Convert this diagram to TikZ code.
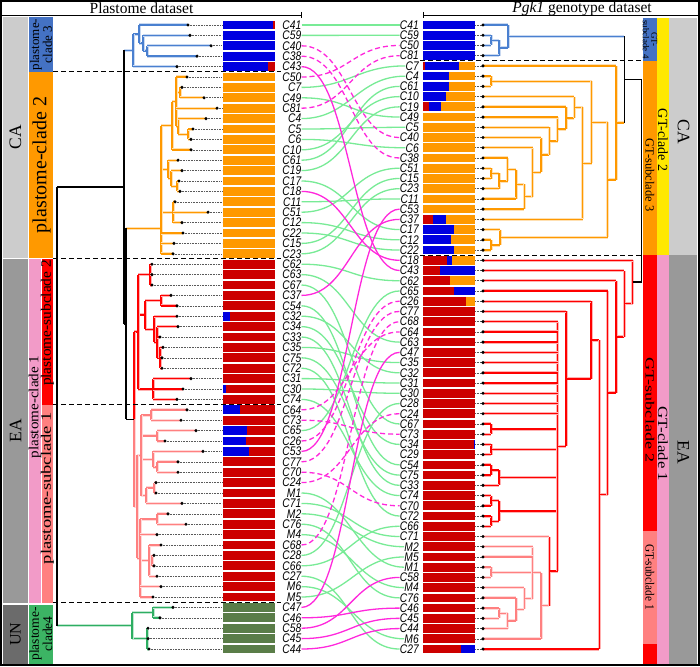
\documentclass[tikz,border=0pt]{standalone}
\usepackage{fontspec}
\setmainfont{Liberation Serif}
\newfontfamily\labfont{Liberation Sans}
\usepackage{graphicx}
\definecolor{cBlue}{HTML}{4A80D0}
\definecolor{cOrange}{HTML}{FF9900}
\definecolor{cRed}{HTML}{FF0000}
\definecolor{cSalmon}{HTML}{FF8080}
\definecolor{cGreenT}{HTML}{2DAE62}
\definecolor{barBlue}{HTML}{0000E0}
\definecolor{barRed}{HTML}{CC0000}
\definecolor{barOrange}{HTML}{FF9900}
\definecolor{barGreen}{HTML}{5A7D48}
\definecolor{colBlue}{HTML}{4472C4}
\definecolor{colPink}{HTML}{F29BC8}
\definecolor{colGreen}{HTML}{3CB464}
\definecolor{colYellow}{HTML}{FFE800}
\definecolor{greyCA}{HTML}{CCCCCC}
\definecolor{greyEA}{HTML}{999999}
\definecolor{greyUN}{HTML}{6B6B6B}
\definecolor{connG}{HTML}{78EB96}
\definecolor{connM}{HTML}{FF28DC}
\newcommand\leaflab[1]{\scalebox{0.82}[1]{\labfont\itshape\fontsize{12.5}{12.5}\selectfont #1}}
\newcommand\tpath[2]{\draw[#1!30, line width=3pt] #2; \draw[#1, line width=1.4pt] #2;}
\newcommand\inode[6]{\tpath{#1}{(#6,#5) -- (#2,#5) (#2,#3) -- (#2,#4)}}
\newcommand\lseg[4]{\fill[#2] ({223+52*#3},{25+10.4*#1-4.4}) rectangle ({223+52*#4},{25+10.4*#1+4.4});}
\newcommand\rseg[4]{\fill[#2] ({423+52*#3},{25+10.23*#1-4.35}) rectangle ({423+52*#4},{25+10.23*#1+4.35});}
\begin{document}
\begin{tikzpicture}[x=1pt,y=-1pt,
  bk/.style={line width=1.5pt, black},
  lead/.style={densely dotted, line width=0.6pt, black!65},
  lab/.style={inner sep=0.3pt, outer sep=0pt},
  congr/.style={connG, line width=1.3pt},
  conmag/.style={connM, line width=1.3pt},
  conmagd/.style={connM, line width=1.3pt, dash pattern=on 5pt off 3pt},
  dsh/.style={black, line width=1.3pt, dash pattern=on 5pt off 3pt},
  rtx/.style={inner sep=0pt, align=center}]
\useasboundingbox (0,0) rectangle (700,666);
\fill[white] (0,0) rectangle (700,666);
% ---------- header ----------
\node[rtx, font=\fontsize{15.5}{16}\selectfont] (hl) at (141.5,8.5) {Plastome dataset};
\node[rtx, font=\fontsize{15.5}{16}\selectfont] (hr) at (582,8.5) {\textit{Pgk1} genotype dataset};
\draw[line width=0.8pt] (1,15) -- (301,15) (301,12) -- (301,18);
\draw[line width=0.8pt] (423,12) -- (423,18) (423,15) -- (699,15);
% ---------- left columns ----------
\fill[greyCA] (3,17) rectangle (28,258.5);
\fill[greyEA] (3,258.5) rectangle (28,604);
\fill[greyUN] (3,604) rectangle (28,664);
\fill[colBlue] (29,17) rectangle (53,72);
\fill[cOrange] (29,72) rectangle (53,258.5);
\fill[colPink] (29,258.5) rectangle (41,604);
\fill[cRed] (41.5,258.5) rectangle (53,404.6);
\fill[cSalmon] (41.5,404.6) rectangle (53,604);
\fill[colGreen] (29,604) rectangle (53,664);
\draw[white, line width=1.2pt] (3,258.5) -- (53,258.5) (3,604) -- (53,604);
\node[rotate=90, rtx, font=\fontsize{17.5}{18}\selectfont] (tCA) at (15.5,137) {CA};
\node[rotate=90, rtx, font=\fontsize{17.5}{18}\selectfont] (tEA) at (15.5,431) {EA};
\node[rotate=90, rtx, font=\fontsize{16}{17}\selectfont] (tUN) at (15.5,634) {UN};
\node[rotate=90, rtx, font=\fontsize{13}{11.5}\selectfont] (tp3) at (41,44.5) {plastome-\\clade 3};
\node[rotate=90, rtx, font=\fontsize{20}{20}\selectfont] (tp2) at (41.5,165) {plastome-clade 2};
\node[rotate=90, rtx, font=\fontsize{14}{14}\selectfont] (tp1) at (35,407) {\scalebox{1.08}[1]{plastome-clade 1}};
\node[rotate=90, rtx, font=\fontsize{14.5}{14.5}\selectfont] (ts2) at (47.5,323) {\scalebox{1.06}[1]{plastome-subclade 2}};
\node[rotate=90, rtx, font=\fontsize{14.5}{14.5}\selectfont] (ts1) at (47.5,488) {\scalebox{1.28}[1]{plastome-subclade 1}};
\node[rotate=90, rtx, font=\fontsize{13.5}{11.5}\selectfont] (tp4) at (41,634) {plastome-\\clade4};
% ---------- right columns ----------
\fill[colBlue] (643,18) rectangle (657,60.8);
\fill[cOrange] (643,60.8) rectangle (657,255.3);
\fill[cRed] (643,255.3) rectangle (657,531.4);
\fill[cSalmon] (643,531.4) rectangle (657,643.9);
\fill[cRed] (643,643.9) rectangle (657,664);
\fill[colYellow] (657,18) rectangle (669,255.3);
\fill[colPink] (657,255.3) rectangle (669,664);
\fill[greyCA] (669,18) rectangle (697,255.3);
\fill[greyEA] (669,255.3) rectangle (697,664);
\node[rotate=-90, rtx, font=\fontsize{9}{8.5}\selectfont] (g4) at (650,39.5) {GT-\\subclade 4};
\node[rotate=-90, rtx, font=\fontsize{12.5}{13}\selectfont] (g3) at (650,175) {GT-subclade 3};
\node[rotate=-90, rtx, font=\fontsize{12.5}{13}\selectfont] (g2) at (650,410) {\scalebox{1.45}[1]{GT-subclade 2}};
\node[rotate=-90, rtx, font=\fontsize{12.5}{13}\selectfont] (g1) at (650,577) {\scalebox{0.9}[1]{GT-subclade 1}};
\node[rotate=-90, rtx, font=\fontsize{14}{14}\selectfont] (gc2) at (663,140) {GT-clade 2};
\node[rotate=-90, rtx, font=\fontsize{14}{14}\selectfont] (gc1) at (663,444) {\scalebox{1.2}[1]{GT-clade 1}};
\node[rotate=-90, rtx, font=\fontsize{17.5}{18}\selectfont] (rCAt) at (683.5,132) {CA};
\node[rotate=-90, rtx, font=\fontsize{17.5}{18}\selectfont] (rEAt) at (683.5,452) {EA};
% ---------- left bars ----------
\foreach \i in {0,...,4} {\lseg{\i}{barBlue}{0}{1}}
\foreach \i in {5,...,22} {\lseg{\i}{barOrange}{0}{1}}
\foreach \i in {23,...,55} {\lseg{\i}{barRed}{0}{1}}
\foreach \i in {56,...,60} {\lseg{\i}{barGreen}{0}{1}}
\lseg{0}{barRed}{0.955}{1}
\lseg{4}{barRed}{0.87}{1}
\lseg{28}{barBlue}{0}{0.13}
\lseg{35}{barBlue}{0}{0.05}
\lseg{37}{barBlue}{0}{0.32}
\lseg{39}{barBlue}{0}{0.47}
\lseg{40}{barBlue}{0}{0.44}
\lseg{41}{barBlue}{0}{0.50}
% ---------- right bars ----------
\foreach \i in {0,...,3} {\rseg{\i}{barBlue}{0}{1}}
\foreach \i in {4,...,22} {\rseg{\i}{barOrange}{0}{1}}
\foreach \i in {23,...,61} {\rseg{\i}{barRed}{0}{1}}
\rseg{4}{barRed}{0}{0.03}
\rseg{4}{barBlue}{0.03}{0.70}
\rseg{5}{barBlue}{0}{0.50}
\rseg{6}{barBlue}{0}{0.50}
\rseg{7}{barBlue}{0}{0.45}
\rseg{8}{barRed}{0}{0.12}
\rseg{8}{barBlue}{0.12}{0.35}
\rseg{19}{barRed}{0}{0.19}
\rseg{19}{barBlue}{0.19}{0.44}
\rseg{20}{barBlue}{0}{0.59}
\rseg{21}{barBlue}{0}{0.54}
\rseg{22}{barBlue}{0}{0.59}
\rseg{23}{barBlue}{0.47}{0.55}
\rseg{23}{barOrange}{0.55}{1}
\rseg{24}{barBlue}{0.32}{1}
\rseg{25}{barOrange}{0.52}{1}
\rseg{26}{barBlue}{0.59}{1}
\rseg{27}{barOrange}{0.83}{1}
\rseg{41}{barBlue}{0.985}{1}
\rseg{61}{barBlue}{0.73}{1}
% ---------- left tree internal ----------
\inode{cBlue}{147}{45.8}{56.2}{51}{143}
\inode{cBlue}{143}{35.4}{51}{43.2}{139}
\inode{cBlue}{139}{25}{43.2}{34.1}{133}
\inode{cBlue}{133}{34.1}{66.6}{50.35}{124}
\inode{cOrange}{180}{87.4}{97.8}{92.6}{176}
\inode{cOrange}{188}{129}{139.4}{134.2}{178}
\inode{cOrange}{178}{118.6}{134.2}{126.4}{176}
\inode{cOrange}{176}{77}{126.4}{101.7}{172}
\inode{cOrange}{172}{101.7}{149.8}{125.75}{161}
\inode{cOrange}{177}{181}{191.4}{186.2}{171}
\inode{cOrange}{171}{170.6}{186.2}{178.4}{168}
\inode{cOrange}{168}{160.2}{178.4}{169.3}{161}
\inode{cOrange}{173}{201.8}{222.6}{212.2}{161}
\inode{cOrange}{161}{125.75}{253.8}{228.3}{126}
\inode{cRed}{150}{264.2}{285}{274.6}{138}
\inode{cRed}{161}{295.4}{305.8}{300.6}{145}
\inode{cRed}{160}{347.4}{368.2}{357.8}{157}
\inode{cRed}{157}{326.6}{357.8}{342.2}{154}
\inode{cRed}{154}{316.2}{342.2}{329.2}{145}
\inode{cRed}{145}{300.6}{329.2}{314.9}{138}
\inode{cRed}{153}{378.6}{399.4}{389}{138}
\inode{cRed}{138}{274.6}{389}{331.8}{134}
\inode{cSalmon}{151}{409.8}{420.2}{415}{141}
\inode{cSalmon}{157}{430.6}{441}{435.8}{141}
\inode{cSalmon}{157}{461.8}{472.2}{467}{153}
\inode{cSalmon}{153}{451.4}{467}{459.2}{141}
\inode{cSalmon}{154}{482.6}{493}{487.8}{146}
\inode{cSalmon}{146}{487.8}{503.4}{495.6}{141}
\inode{cSalmon}{141}{415}{495.6}{455.3}{137}
\inode{cSalmon}{157}{513.8}{524.2}{519}{140}
\inode{cSalmon}{152}{555.4}{565.8}{560.6}{149}
\inode{cSalmon}{149}{545}{576.2}{560.6}{140}
\inode{cSalmon}{140}{519}{597}{558}{137}
\inode{cSalmon}{137}{455.3}{558}{506.7}{134}
\tpath{cRed}{(134,331.8) -- (134,419.3)}
\tpath{cSalmon}{(134,419.3) -- (134,506.7)}
\inode{cGreenT}{153}{607.4}{617.8}{612.6}{132}
\inode{cGreenT}{147}{628.2}{649}{638.6}{132}
\inode{cGreenT}{132}{612.6}{638.6}{625.6}{57}
\draw[bk] (126,419.3) -- (134,419.3);
\draw[bk] (126,228.3) -- (126,419.3) (124,323.8) -- (126,323.8);
\draw[bk] (124,50.35) -- (124,323.8) (57,187) -- (124,187);
\draw[bk] (57,187) -- (57,625.6);
% ---------- left leaves ----------
\foreach \n/\dx/\px/\tc [count=\i from 0] in {
C41/188/139/cBlue, C59/190/143/cBlue, C40/211/147/cBlue, C38/197/147/cBlue, C43/177/133/cBlue,
C50/187/176/cOrange, C7/182/180/cOrange, C49/204/180/cOrange, C81/217/176/cOrange, C4/206/178/cOrange,
C5/193/188/cOrange, C6/191/188/cOrange, C10/191/172/cOrange, C61/178/168/cOrange, C19/182/171/cOrange,
C17/179/177/cOrange, C18/180/177/cOrange, C11/175/173/cOrange, C51/208/173/cOrange, C12/182/173/cOrange,
C22/183/161/cOrange, C15/174/161/cOrange, C23/173/161/cOrange,
C62/152/150/cRed, C63/152/150/cRed, C67/152/150/cRed, C37/171/161/cRed, C54/177/161/cRed,
C32/177/154/cRed, C34/178/157/cRed, C33/160/157/cRed, C35/163/160/cRed, C75/162/160/cRed,
C72/162/160/cRed, C31/191/153/cRed, C30/183/153/cRed, C74/177/153/cRed,
C64/187/151/cSalmon, C73/181/151/cSalmon, C65/196/157/cSalmon, C26/165/157/cSalmon, C53/203/153/cSalmon,
C77/178/157/cSalmon, C70/178/157/cSalmon, C24/156/154/cSalmon, M1/156/154/cSalmon, C71/182/146/cSalmon,
M2/168/157/cSalmon, C76/186/157/cSalmon, M4/157/140/cSalmon, C68/161/149/cSalmon, C28/154/152/cSalmon,
C66/154/152/cSalmon, C27/157/149/cSalmon, M6/161/140/cSalmon, M5/153/140/cSalmon,
C47/173/153/cGreenT, C46/160/153/cGreenT, C58/148/147/cGreenT, C45/148/147/cGreenT, C44/149/147/cGreenT} {
  \pgfmathsetmacro\yy{25+10.4*\i}
  \colorlet{curc}{\tc}
  \tpath{curc}{(\px,\yy) -- (\dx,\yy)}
  \draw[lead] (\dx,\yy) -- (222,\yy);
  \fill (\dx,\yy) circle[radius=1.7pt];
  \node[lab,anchor=east] (l\n) at (301.5,\yy) {\leaflab{\n}};
}
% ---------- right tree internal ----------
\inode{cBlue}{491}{35.2}{45.5}{40.3}{499}
\inode{cBlue}{499}{40.3}{55.7}{48}{508}
\inode{cBlue}{508}{25}{48}{36.5}{624.3}
\inode{cOrange}{491}{76.2}{86.4}{81.3}{591.7}
\inode{cOrange}{491}{168.2}{178.5}{173.3}{499}
\inode{cOrange}{499}{173.3}{188.7}{181}{507.7}
\inode{cOrange}{507.7}{158}{181}{169.5}{516}
\inode{cOrange}{516}{169.5}{198.9}{184.2}{524.3}
\inode{cOrange}{524.3}{184.2}{209.1}{196.7}{532.7}
\inode{cOrange}{532.7}{147.8}{196.7}{172.2}{541}
\inode{cOrange}{541}{137.5}{172.2}{154.9}{549.3}
\inode{cOrange}{549.3}{127.3}{154.9}{141.1}{557.7}
\inode{cOrange}{557.7}{117.1}{141.1}{129.1}{566}
\inode{cOrange}{566}{106.8}{129.1}{118}{574.3}
\inode{cOrange}{574.3}{96.6}{118}{107.3}{582.7}
\inode{cOrange}{582.7}{107.3}{219.4}{163.3}{591.7}
\inode{cOrange}{591.7}{81.3}{163.3}{122.3}{607.7}
\inode{cOrange}{491}{239.9}{250.1}{245}{500}
\inode{cOrange}{500}{229.6}{245}{237.3}{607.7}
\inode{cOrange}{607.7}{122.3}{237.3}{179.8}{616}
\inode{cOrange}{616}{65.9}{179.8}{122.9}{624.3}
\inode{cRed}{491}{424}{434.2}{429.1}{557.7}
\inode{cRed}{491}{444.4}{454.7}{449.5}{557.7}
\inode{cRed}{491}{464.9}{475.1}{470}{499}
\inode{cRed}{499}{470}{485.4}{477.7}{557.7}
\inode{cRed}{491}{495.6}{505.8}{500.7}{499}
\inode{cRed}{491}{516}{526.3}{521.2}{499}
\inode{cRed}{499}{500.7}{521.2}{511}{557.7}
\inode{cSalmon}{499}{608.1}{618.3}{613.2}{507.7}
\inode{cSalmon}{507.7}{613.2}{628.6}{620.9}{516}
\inode{cSalmon}{516}{597.9}{620.9}{609.4}{524.3}
\inode{cSalmon}{524.3}{587.7}{609.4}{598.5}{532.7}
\inode{cSalmon}{491}{567.2}{577.4}{572.3}{532.7}
\inode{cSalmon}{532.7}{546.7}{598.5}{572.6}{541}
\inode{cSalmon}{541}{572.6}{638.8}{605.7}{549.3}
\inode{cRed}{549.3}{536.5}{605.7}{571.1}{557.7}
\inode{cRed}{557.7}{321.7}{571.1}{446.4}{566}
\inode{cRed}{566}{311.4}{446.4}{378.9}{591}
\inode{cRed}{591}{301.2}{378.9}{340}{599.3}
\inode{cRed}{599.3}{340}{649}{494.5}{607.7}
\inode{cRed}{607.7}{291}{494.5}{392.8}{616}
\inode{cRed}{616}{280.8}{392.8}{336.8}{624.3}
\inode{cRed}{624.3}{270.5}{336.8}{303.7}{632.7}
\tpath{cRed}{(632.7,260.3) -- (632.7,303.7)}
\draw[bk] (632.7,282) -- (641.3,282) -- (641.3,79.7) -- (624.3,79.7);
\draw[bk] (624.3,36.5) -- (624.3,122.9);
% ---------- right leaves ----------
\foreach \n/\px/\tc [count=\i from 0] in {
C41/508/cBlue, C59/491/cBlue, C50/491/cBlue, C81/499/cBlue,
C7/616/cOrange, C4/491/cOrange, C61/491/cOrange, C10/574.3/cOrange, C19/566/cOrange,
C49/557.7/cOrange, C5/549.3/cOrange, C40/541/cOrange, C6/532.7/cOrange, C38/507.7/cOrange,
C51/491/cOrange, C15/491/cOrange, C23/499/cOrange, C11/516/cOrange, C53/524.3/cOrange,
C37/582.7/cOrange, C17/500/cOrange, C12/491/cOrange, C22/491/cOrange,
C18/632.7/cRed, C43/624.3/cRed, C62/616/cRed, C65/607.7/cRed, C26/591/cRed, C77/566/cRed,
C68/557.7/cRed, C64/557.7/cRed, C63/557.7/cRed, C47/557.7/cRed, C35/557.7/cRed, C32/557.7/cRed,
C31/557.7/cRed, C30/557.7/cRed, C28/557.7/cRed, C24/557.7/cRed,
C67/491/cRed, C73/491/cRed, C34/491/cRed, C29/491/cRed, C54/491/cRed, C75/491/cRed,
C33/499/cRed, C74/491/cRed, C70/491/cRed, C72/491/cRed, C66/491/cRed,
C71/549.3/cSalmon, M2/532.7/cSalmon, M5/532.7/cSalmon, M1/491/cSalmon, C58/491/cSalmon,
M4/524.3/cSalmon, C76/516/cSalmon, C46/499/cSalmon, C45/499/cSalmon, C44/507.7/cSalmon,
M6/541/cSalmon, C27/599.3/cRed} {
  \pgfmathsetmacro\yy{25+10.23*\i}
  \colorlet{curc}{\tc}
  \tpath{curc}{(483,\yy) -- (\px,\yy)}
  \draw[lead] (475,\yy) -- (483,\yy);
  \fill (483,\yy) circle[radius=1.7pt];
  \node[lab,anchor=east] (r\n) at (419,\yy) {\leaflab{\n}};
}
% ---------- connectors ----------
\foreach \n in {C41,C59,C7,C49,C4,C5,C6,C10,C61,C19,C17,C11,C51,C12,C22,C15,C23,
  C62,C63,C67,C54,C32,C34,C33,C35,C75,C72,C31,C30,C74,C65,M1,C71,M2,C76,M4,C28,C66,C27,M6,M5}
  {\draw[congr] (l\n.east) .. controls +(48,0) and +(-48,0) .. (r\n.west);}
\foreach \n in {C40,C38,C50,C81,C64,C73,C26,C77,C70,C24,C68}
  {\draw[conmagd] (l\n.east) .. controls +(48,0) and +(-48,0) .. (r\n.west);}
\foreach \n in {C43,C18,C37,C53,C47,C46,C58,C45,C44}
  {\draw[conmag] (l\n.east) .. controls +(48,0) and +(-48,0) .. (r\n.west);}
% ---------- dashed separators ----------
\draw[dsh] (53,71.8) -- (281,71.8);
\draw[dsh] (53,258.8) -- (281,258.8);
\draw[dsh] (53,404.6) -- (281,404.6);
\draw[dsh] (53,602.2) -- (281,602.2);
\draw[dsh] (420,60.8) -- (643,60.8);
\draw[dsh] (420,255.3) -- (643,255.3);
% ---------- frame ----------
\draw[line width=1.3pt] (1,1) rectangle (699,665);
\end{tikzpicture}
\end{document}
